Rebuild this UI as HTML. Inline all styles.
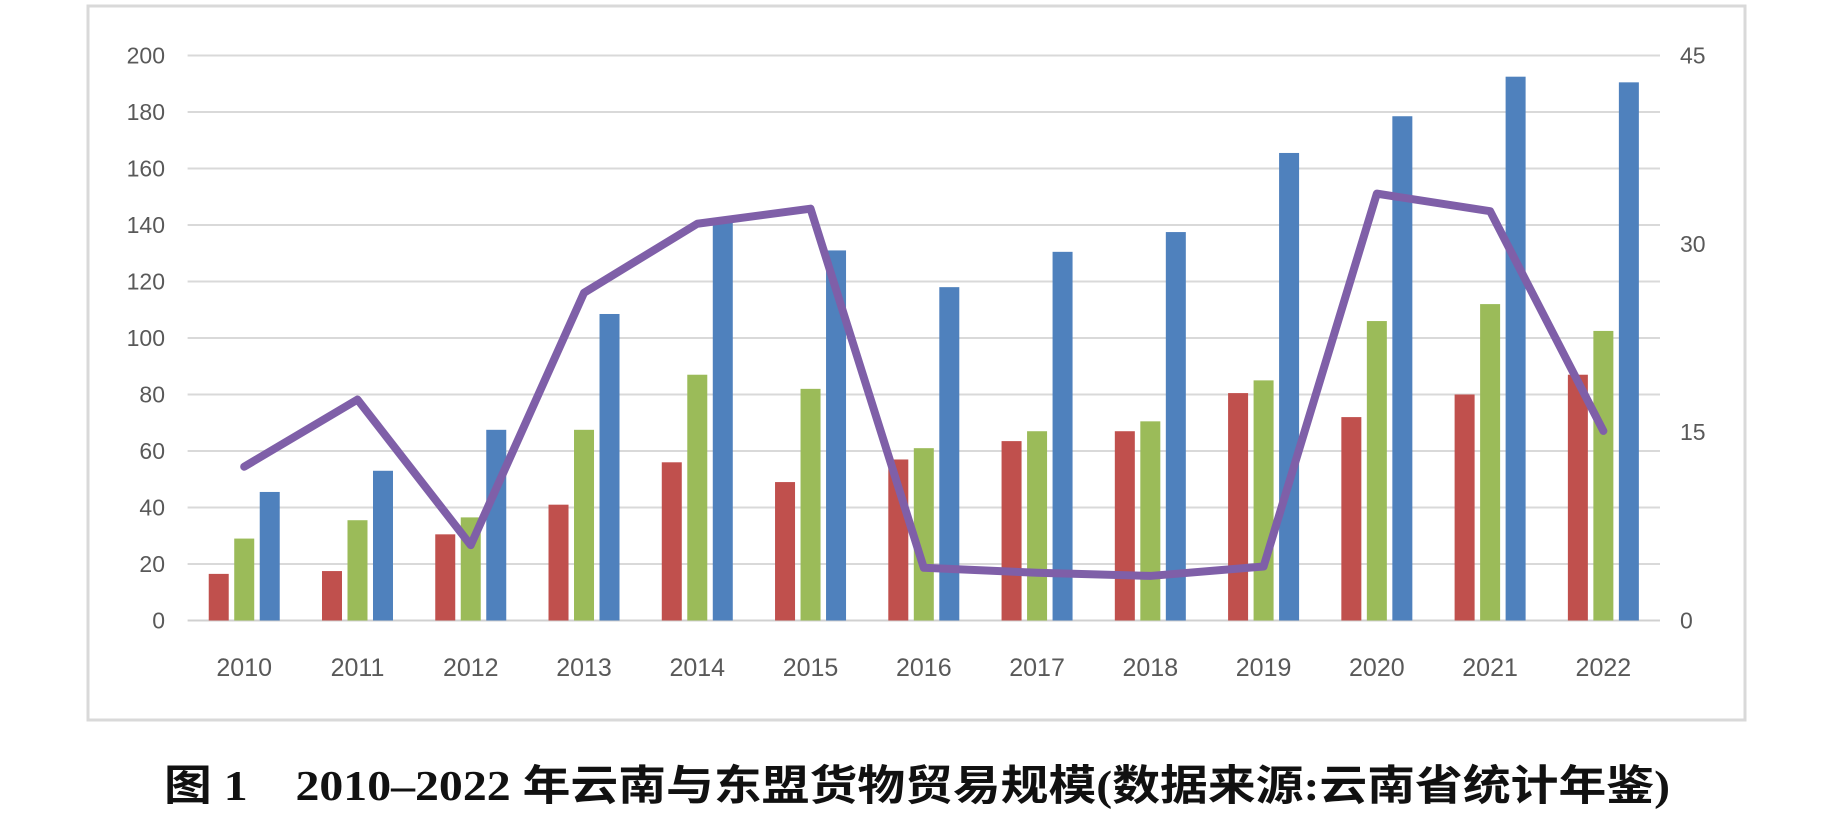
<!DOCTYPE html>
<html><head><meta charset="utf-8">
<style>
html,body{margin:0;padding:0;background:#fff;}
svg{display:block;}
</style></head>
<body>
<svg id="chart" width="1838" height="829" viewBox="0 0 1838 829" xmlns="http://www.w3.org/2000/svg">
  <rect x="88" y="6" width="1657" height="714" fill="#fff" stroke="#d9d9d9" stroke-width="3"/>
  <g id="grid"></g>
  <g id="bars"></g>
  <g id="line"></g>
  <g id="axes"></g>
  <text x="164" y="800" textLength="1506" lengthAdjust="spacingAndGlyphs" font-size="42" font-weight="bold" fill="#111" font-family="'Liberation Serif','Noto Sans CJK SC',serif">图 1　2010–2022 年云南与东盟货物贸易规模(数据来源:云南省统计年鉴)</text>
</svg>
<script>
const categories = ["2010","2011","2012","2013","2014","2015","2016","2017","2018","2019","2020","2021","2022"];
const redValues = [16.5,17.5,30.5,41,56,49,57,63.5,67,80.5,72,80,87];
const greenValues = [29,35.5,36.5,67.5,87,82,61,67,70.5,85,106,112,102.5];
const blueValues = [45.5,53,67.5,108.5,142.5,131,118,130.5,137.5,165.5,178.5,192.5,190.5];
const lineValues = [12.25,17.6,6.0,26.1,31.6,32.8,4.2,3.8,3.55,4.3,34.0,32.6,15.1];
const leftTicks = [0,20,40,60,80,100,120,140,160,180,200];
const rightTicks = [0,15,30,45];

const NS = "http://www.w3.org/2000/svg";
const plotL = 187.6, plotR = 1660, plotT = 55.5, plotB = 620.5;
const leftMax = 200, rightMax = 45;
const band = (plotR - plotL) / categories.length;
function xCenter(i){ return plotL + band * (i + 0.5); }
function yLeft(v){ return plotB - (v / leftMax) * (plotB - plotT); }
function yRight(v){ return plotB - (v / rightMax) * (plotB - plotT); }
function mk(tag, attrs, parent){
  const el = document.createElementNS(NS, tag);
  for (const k in attrs) el.setAttribute(k, attrs[k]);
  parent.appendChild(el);
  return el;
}
const grid = document.getElementById('grid');
const bars = document.getElementById('bars');
const lineG = document.getElementById('line');
const axes = document.getElementById('axes');
const font = "'Liberation Sans','DejaVu Sans',sans-serif";

leftTicks.forEach(t => {
  const y = yLeft(t);
  const gl = mk('line', {x1: plotL, x2: plotR, y1: y, y2: y, stroke: t === 0 ? '#d0d0d0' : '#d9d9d9', 'stroke-width': 2}, grid);
  
  
  const lb = mk('text', {x: 165, y: y + 8, 'text-anchor': 'end', 'font-size': 23, fill: '#595959', 'font-family': font}, axes);
  lb.textContent = t;
  
  
});
rightTicks.forEach(t => {
  const y = yRight(t);
  const lb = mk('text', {x: 1680, y: y + 8, 'text-anchor': 'start', 'font-size': 23, fill: '#595959', 'font-family': font}, axes);
  lb.textContent = t;
  
  
});

const series = [
  {vals: redValues, color: '#C0504D', off: -25.5, name: 'red'},
  {vals: greenValues, color: '#9BBB59', off: 0, name: 'green'},
  {vals: blueValues, color: '#4F81BD', off: 25.5, name: 'blue'}
];
const bw = 20;
categories.forEach((c, i) => {
  const cx = xCenter(i);
  series.forEach(s => {
    const y = yLeft(s.vals[i]);
    const r = mk('rect', {x: cx + s.off - bw/2, y: y, width: bw, height: plotB - y, fill: s.color}, bars);
    
    
  });
  const lb = mk('text', {x: cx, y: 676, 'text-anchor': 'middle', 'font-size': 25, fill: '#595959', 'font-family': font}, axes);
  lb.textContent = c;
  
  
});

const pts = lineValues.map((v, i) => xCenter(i) + ',' + yRight(v)).join(' ');
const pl = mk('polyline', {points: pts, fill: 'none', stroke: '#7F5FA8', 'stroke-width': 8, 'stroke-linejoin': 'round', 'stroke-linecap': 'round'}, lineG);


</script>
</body></html>
